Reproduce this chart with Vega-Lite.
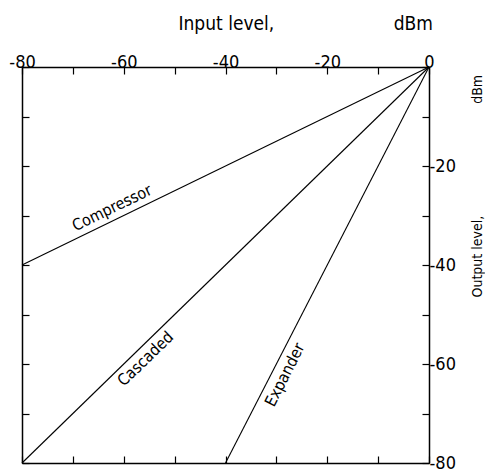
{
  "$schema": "https://vega.github.io/schema/vega-lite/v6.json",
  "autosize": "none",
  "width": 407,
  "height": 396,
  "padding": {"left": 22, "top": 67, "right": 56, "bottom": 7},
  "background": "white",
  "config": {
    "view": {"stroke": null},
    "font": "DejaVu Sans Condensed",
    "axis": {
      "grid": false,
      "domainColor": "black",
      "domainWidth": 1.5,
      "tickColor": "black",
      "tickWidth": 1.2,
      "tickSize": -7,
      "labelColor": "black",
      "labelFont": "DejaVu Sans Condensed",
      "labelFontSize": 18,
      "titleColor": "black",
      "titleFont": "DejaVu Sans Condensed",
      "titleFontSize": 17,
      "titleFontWeight": "normal"
    }
  },
  "datasets": {
    "lines": [
      {"series": "Compressor", "input": -80, "output": -40},
      {"series": "Compressor", "input": 0, "output": 0},
      {"series": "Cascaded", "input": -80, "output": -80},
      {"series": "Cascaded", "input": 0, "output": 0},
      {"series": "Expander", "input": -40, "output": -80},
      {"series": "Expander", "input": 0, "output": 0}
    ],
    "labels": [
      {"label": "Compressor", "input": -62.3, "output": -28.5},
      {"label": "Cascaded", "input": -55.7, "output": -59.0},
      {"label": "Expander", "input": -28.3, "output": -62.2}
    ]
  },
  "resolve": {"axis": {"x": "independent", "y": "independent"}},
  "layer": [
    {
      "data": {"name": "lines"},
      "mark": {"type": "line", "color": "black", "strokeWidth": 1.1},
      "encoding": {
        "x": {
          "field": "input", "type": "quantitative",
          "scale": {"domain": [-80, 0], "nice": false, "zero": false},
          "axis": {
            "orient": "top",
            "values": [-80, -70, -60, -50, -40, -30, -20, -10, 0],
            "labelExpr": "datum.value % 20 == 0 ? '' + datum.value : ''",
            "labelPadding": 3,
            "labelFlush": false,
            "labelOverlap": false,
            "title": "Input level,\u00a0\u00a0\u00a0\u00a0\u00a0\u00a0\u00a0\u00a0\u00a0\u00a0\u00a0\u00a0\u00a0\u00a0\u00a0\u00a0\u00a0\u00a0\u00a0\u00a0\u00a0\u00a0dBm",
            "titleFontSize": 19,
            "titleAlign": "left",
            "titleAnchor": "start",
            "titleBaseline": "alphabetic",
            "titleX": 156,
            "titleY": -38
          }
        },
        "y": {
          "field": "output", "type": "quantitative",
          "scale": {"domain": [-80, 0], "nice": false, "zero": false},
          "axis": {
            "orient": "right",
            "values": [-80, -70, -60, -50, -40, -30, -20, -10, 0],
            "labelExpr": "datum.value % 20 == 0 && datum.value != 0 ? '' + datum.value : ''",
            "labelPadding": 7,
            "labelFlush": false,
            "labelOverlap": false,
            "title": "Output level,\u00a0\u00a0\u00a0\u00a0\u00a0\u00a0\u00a0\u00a0\u00a0\u00a0\u00a0\u00a0\u00a0\u00a0\u00a0\u00a0\u00a0\u00a0\u00a0\u00a0\u00a0\u00a0\u00a0\u00a0\u00a0\u00a0\u00a0\u00a0dBm",
            "titleFontSize": 14,
            "titleAngle": 270,
            "titleAlign": "left",
            "titleAnchor": "start",
            "titleBaseline": "middle",
            "titleX": 48,
            "titleY": 230
          }
        },
        "detail": {"field": "series"}
      }
    },
    {
      "data": {"name": "lines"},
      "mark": {"type": "point", "opacity": 0},
      "encoding": {
        "x": {
          "field": "input", "type": "quantitative",
          "scale": {"domain": [-80, 0], "nice": false, "zero": false},
          "axis": {"orient": "bottom", "values": [-80, -70, -60, -50, -40, -30, -20, -10, 0], "labels": false, "title": null}
        },
        "y": {
          "field": "output", "type": "quantitative",
          "scale": {"domain": [-80, 0], "nice": false, "zero": false},
          "axis": {"orient": "left", "values": [-80, -70, -60, -50, -40, -30, -20, -10, 0], "labels": false, "title": null}
        }
      }
    },
    {
      "data": {"name": "labels"},
      "transform": [{"filter": "datum.label == 'Compressor'"}],
      "mark": {"type": "text", "angle": -26, "fontSize": 16, "font": "DejaVu Sans Condensed", "color": "black", "align": "center", "baseline": "middle"},
      "encoding": {
        "x": {"field": "input", "type": "quantitative", "axis": null},
        "y": {"field": "output", "type": "quantitative", "axis": null},
        "text": {"field": "label"}
      }
    },
    {
      "data": {"name": "labels"},
      "transform": [{"filter": "datum.label == 'Cascaded'"}],
      "mark": {"type": "text", "angle": -44, "fontSize": 16, "font": "DejaVu Sans Condensed", "color": "black", "align": "center", "baseline": "middle"},
      "encoding": {
        "x": {"field": "input", "type": "quantitative", "axis": null},
        "y": {"field": "output", "type": "quantitative", "axis": null},
        "text": {"field": "label"}
      }
    },
    {
      "data": {"name": "labels"},
      "transform": [{"filter": "datum.label == 'Expander'"}],
      "mark": {"type": "text", "angle": -63, "fontSize": 16, "font": "DejaVu Sans Condensed", "color": "black", "align": "center", "baseline": "middle"},
      "encoding": {
        "x": {"field": "input", "type": "quantitative", "axis": null},
        "y": {"field": "output", "type": "quantitative", "axis": null},
        "text": {"field": "label"}
      }
    }
  ]
}
